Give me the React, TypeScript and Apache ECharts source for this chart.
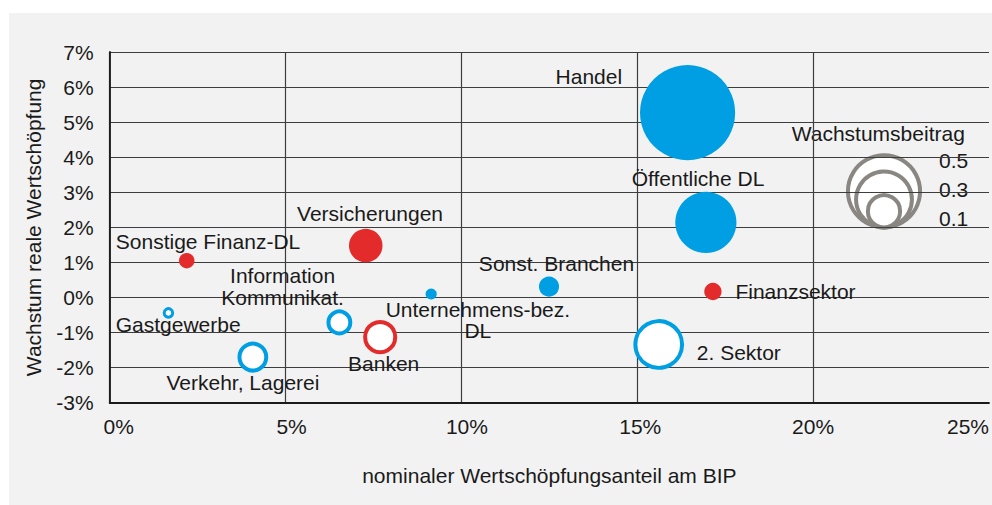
import React, { useEffect, useRef } from "react";
import * as echarts from "echarts";

// Branchen (labels), Anteil am BIP (%), Wachstum (%), Wachstumsbeitrag (pp)
const names = [
  "Handel",
  "Öffentliche DL",
  "Versicherungen",
  "Sonstige Finanz-DL",
  "Information\nKommunikat.",
  "Gastgewerbe",
  "Verkehr, Lagerei",
  "Banken",
  "Unternehmens-bez.\nDL",
  "Sonst. Branchen",
  "Finanzsektor",
  "2. Sektor",
];
const anteil = [16.43, 16.95, 7.28, 2.19, 6.53, 1.67, 4.07, 7.69, 9.14, 12.49, 17.15, 15.61];
const wachstum = [5.27, 2.14, 1.48, 1.05, -0.71, -0.44, -1.7, -1.13, 0.1, 0.31, 0.17, -1.34];
const beitrag = [0.87, 0.36, 0.108, 0.023, -0.046, -0.007, -0.069, -0.087, 0.012, 0.039, 0.029, -0.21];
const finanz = [false, false, true, true, false, false, false, true, false, false, true, false];

const xTicks = [0, 5, 10, 15, 20, 25];
const legendValues = [0.5, 0.3, 0.1];
const legendTitle = "Wachstumsbeitrag";

// label offsets from bubble centre [dx, dy, lineHeight]
const labelLayout: number[][] = [
  [-98.7, -36.3, 22],
  [-7.8, -43.5, 22],
  [4.3, -32.5, 22],
  [21.3, -19.3, 22],
  [-56.8, -35.5, 22],
  [9.7, 11.7, 22],
  [-9.9, 25.8, 22],
  [3.5, 26.5, 22],
  [46.7, 26, 21],
  [7.5, -23.5, 22],
  [82.6, 0, 22],
  [80.1, 8, 22],
];
// small horizontal nudges of x tick labels (left padding in px)
const xTickPad = [18, 12, 11, 6, 0, 0];

const BLUE = "#009fe3";
const RED = "#e42b2b";
const TEXT = "#1a1a1a";
const FONT = '"Liberation Sans", Arial, Helvetica, sans-serif';
const FS = 21;

export default function App() {
  const ref = useRef<HTMLDivElement>(null);
  useEffect(() => {
    const chart = echarts.init(ref.current!, null, { renderer: "svg" });
    const K = 51;
    const radius = (v: number) => K * Math.sqrt(Math.abs(v));

    const data = names.map((n, i) => {
      const neg = beitrag[i] < 0;
      const col = finanz[i] ? RED : BLUE;
      const r = radius(beitrag[i]);
      const lo = labelLayout[i];
      return {
        name: n,
        value: [anteil[i], wachstum[i], beitrag[i]],
        symbolSize: 2 * r,
        itemStyle: neg
          ? { color: "#ffffff", borderColor: col, borderWidth: r < 6 ? 3 : 4, opacity: 1 }
          : { color: col, borderWidth: 0, opacity: 1 },
        label: { offset: [lo[0], lo[1]], lineHeight: lo[2] },
      };
    });

    const rich: Record<string, any> = {};
    xTicks.forEach((t, i) => {
      rich["t" + t] = {
        fontSize: FS,
        color: TEXT,
        fontFamily: FONT,
        padding: [0, 0, 0, xTickPad[i]],
      };
    });

    const lcx = 875;
    const lbottom = 214.4;
    const legendCircles = legendValues.map((v) => {
      const r = radius(v);
      return {
        type: "circle",
        shape: { cx: lcx, cy: lbottom - r, r },
        style: { fill: "#ffffff", stroke: "#8a8783", lineWidth: 4 },
      };
    });
    const legendYs = [147, 176, 205];
    const legendTexts = legendValues.map((v, i) => ({
      type: "text",
      x: 930,
      y: legendYs[i],
      style: {
        text: v.toFixed(1),
        fill: TEXT,
        fontSize: FS,
        fontFamily: FONT,
        textAlign: "left",
        textVerticalAlign: "middle",
        align: "left",
        verticalAlign: "middle",
      },
    }));

    chart.setOption({
      animation: false,
      backgroundColor: "transparent",
      textStyle: { fontFamily: FONT },
      grid: { left: 100.7, top: 39, right: 3, bottom: 102.3, containLabel: false },
      xAxis: {
        type: "value",
        min: 0,
        max: 25,
        interval: 5,
        name: "nominaler Wertschöpfungsanteil am BIP",
        nameLocation: "middle",
        nameGap: 62,
        nameTextStyle: { fontSize: FS, color: TEXT, fontFamily: FONT },
        axisLine: { show: true, onZero: false, lineStyle: { color: "#1a1a1a", width: 1.8 } },
        axisTick: { show: false },
        axisLabel: {
          formatter: (v: number) => `{t${v}|${v}%}`,
          rich,
          fontSize: FS,
          color: TEXT,
          fontFamily: FONT,
          margin: 13,
          alignMaxLabel: "right",
        },
        splitLine: { show: true, showMaxLine: false, lineStyle: { color: "#3d3d3d", width: 1.2 } },
      },
      yAxis: {
        type: "value",
        min: -3,
        max: 7,
        interval: 1,
        name: "Wachstum reale Wertschöpfung",
        nameLocation: "middle",
        nameGap: 66,
        nameTextStyle: { fontSize: FS, color: TEXT, fontFamily: FONT },
        axisLine: { show: true, onZero: false, lineStyle: { color: "#1a1a1a", width: 1.8 } },
        axisTick: { show: false },
        axisLabel: { formatter: "{value}%", fontSize: FS, color: TEXT, fontFamily: FONT, margin: 16 },
        splitLine: { show: true, lineStyle: { color: "#3d3d3d", width: 1.2 } },
      },
      series: [
        {
          type: "scatter",
          symbol: "circle",
          data,
          itemStyle: { opacity: 1 },
          label: {
            show: true,
            position: "inside",
            formatter: "{b}",
            fontSize: FS,
            color: TEXT,
            opacity: 1,
            fontFamily: FONT,
            align: "center",
            verticalAlign: "middle",
          },
          emphasis: { disabled: true },
        },
      ],
      graphic: [
        {
          type: "text",
          x: 782.7,
          y: 120,
          style: {
            text: legendTitle,
            fill: TEXT,
            fontSize: FS,
            fontFamily: FONT,
            textAlign: "left",
            textVerticalAlign: "middle",
            align: "left",
            verticalAlign: "middle",
          },
        },
        ...legendCircles,
        ...legendTexts,
      ],
    });
    return () => chart.dispose();
  }, []);

  return (
    <div style={{ position: "fixed", left: 0, top: 0, width: 992, height: 505, background: "#ffffff" }}>
      <div
        ref={ref}
        style={{ position: "absolute", left: 9, top: 13, width: 983, height: 492, background: "#f2f2f2" }}
      />
    </div>
  );
}
